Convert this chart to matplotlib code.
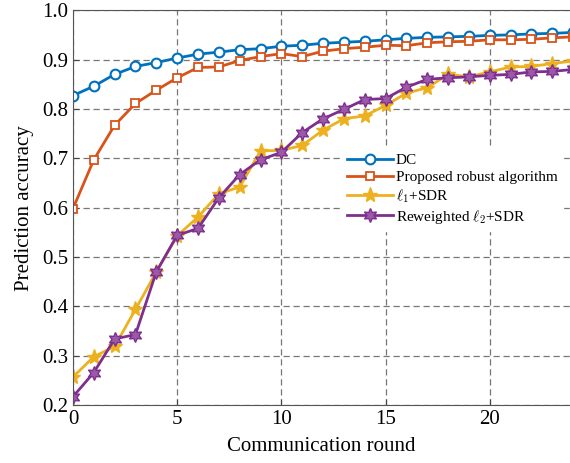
import matplotlib.pyplot as plt
import numpy as np

plt.rcParams['font.family'] = ['Liberation Serif', 'DejaVu Serif']
plt.rcParams['mathtext.fontset'] = 'cm'

# communication rounds
rounds = np.arange(0, 25)

# prediction accuracy
dc = [0.827, 0.846, 0.870, 0.886, 0.894, 0.903, 0.911, 0.915, 0.920, 0.922,
      0.927, 0.929, 0.933, 0.935, 0.937, 0.940, 0.943, 0.945, 0.946, 0.947,
      0.949, 0.950, 0.952, 0.953, 0.955]
robust = [0.598, 0.697, 0.767, 0.811, 0.838, 0.863, 0.884, 0.885, 0.898, 0.906,
          0.912, 0.906, 0.917, 0.922, 0.925, 0.929, 0.928, 0.934, 0.936, 0.937,
          0.940, 0.940, 0.941, 0.944, 0.946]
l1_sdr = [0.257, 0.298, 0.319, 0.394, 0.470, 0.543, 0.581, 0.628, 0.642, 0.715,
          0.716, 0.726, 0.757, 0.780, 0.786, 0.807, 0.832, 0.843, 0.870, 0.865,
          0.875, 0.885, 0.886, 0.892, 0.897]
rw_l2_sdr = [0.217, 0.266, 0.334, 0.343, 0.470, 0.544, 0.558, 0.620, 0.667, 0.697,
             0.712, 0.752, 0.780, 0.799, 0.819, 0.821, 0.844, 0.860, 0.863, 0.865,
             0.868, 0.870, 0.875, 0.876, 0.880]

fig = plt.figure(figsize=(5.7, 4.63), dpi=100)
ax = fig.add_axes([0.128, 0.125, 0.872, 0.853])

ax.plot(rounds, dc, color='#0072BD', lw=2, marker='o', ms=7, mfc='white',
        mew=1.5, label='DC')
ax.plot(rounds, robust, color='#D95319', lw=2, marker='s', ms=6, mfc='white',
        mew=1.3, label='Proposed robust algorithm')
ax.plot(rounds, l1_sdr, color='#EDB120', lw=2, marker='*', ms=11,
        label=r'$\ell_1$+SDR')
ax.plot(rounds, rw_l2_sdr, color='#7E2F8E', lw=2, marker=(6, 1, 0), ms=10,
        mfc='#9b5aa8', label=r'Reweighted $\ell_2$+SDR')

ax.set_xlim(0, 23.85)
ax.set_ylim(0.2, 1.0)
ax.set_xticks([0, 5, 10, 15, 20])
ax.set_yticks(np.arange(0.2, 1.01, 0.1))
ax.set_yticklabels(['%.1f' % v for v in np.arange(0.2, 1.01, 0.1)])
ax.tick_params(direction='in', labelsize=15, length=4, color='#444444')
ax.grid(True, ls=(0, (5, 3)), color='#777777', lw=0.9)
ax.spines['right'].set_visible(False)
for s in ['left', 'bottom', 'top']:
    ax.spines[s].set_color('#555555')

ax.set_xlabel('Communication round', fontsize=15, labelpad=6)
ax.set_ylabel('Prediction accuracy', fontsize=15, labelpad=6)

leg = ax.legend(loc='upper left', bbox_to_anchor=(0.525, 0.67), fontsize=11,
                frameon=True, fancybox=False, edgecolor='white',
                facecolor='white', framealpha=1, handlelength=3,
                handletextpad=0.2, labelspacing=0.2, borderpad=0.35)

fig.savefig('out.png', dpi=100)
